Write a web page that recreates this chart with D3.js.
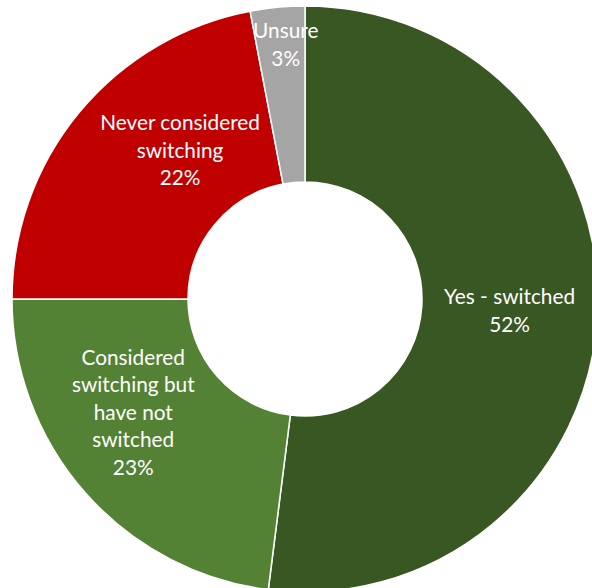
<!DOCTYPE html>
<html>
<head>
<meta charset="utf-8">
<script src="https://cdn.jsdelivr.net/npm/d3@7"></script>
<style>
  html, body { margin: 0; padding: 0; background: #fff; }
  svg { display: block; }
</style>
</head>
<body>
<svg id="chart" width="592" height="588"></svg>
<script>
// Data
const categories = ["Yes - switched", "Considered switching but have not switched", "Never considered switching", "Unsure"];
const values = [52, 23, 22, 3];
const labelLines = [
  ["Yes - switched"],
  ["Considered", "switching but", "have not", "switched"],
  ["Never considered", "switching"],
  ["Unsure"]
];
const colors = ["#385723", "#548235", "#C00000", "#A5A5A5"];
// label layout nudges (pixels, relative to arc centroid)
const labelNudge = [[0, -1], [-18, -22], [33, -18], [0, -50]];

const svg = d3.select("#chart");
const cx = 305, cy = 299, R = 293, r = 117;
const g = svg.append("g").attr("transform", `translate(${cx},${cy})`);

const pie = d3.pie().value(d => d).sort(null);
const arcs = pie(values);
const arc = d3.arc().innerRadius(r).outerRadius(R);
const labelArc = d3.arc().innerRadius((R + r) / 2).outerRadius((R + r) / 2);

g.selectAll("path.slice").data(arcs).join("path")
  .attr("class", "slice")
  .attr("d", arc)
  .attr("fill", (d, i) => colors[i])
  .attr("stroke", "#fff")
  .attr("stroke-width", 1.5);

const lineH = 27.5;
const fmt = d3.format(".0%");
const total = d3.sum(values);
g.selectAll("text.lbl").data(arcs).join("text")
  .attr("class", "lbl")
  .attr("font-family", "Lato, 'Open Sans', sans-serif")
  .attr("font-size", 20.8)
  .attr("fill", "#fff")
  .attr("text-anchor", "middle")
  .each(function(d, i) {
    const [x, y] = labelArc.centroid(d);
    const lines = labelLines[i].concat([fmt(values[i] / total)]);
    const x0 = x + labelNudge[i][0];
    const y0 = y + labelNudge[i][1] - (lines.length - 1) * lineH / 2;
    const t = d3.select(this);
    lines.forEach((ln, k) => {
      t.append("tspan")
        .attr("x", x0)
        .attr("y", y0 + k * lineH)
        .attr("dy", "0.35em")
        .text(ln);
    });
  });
</script>
</body>
</html>
